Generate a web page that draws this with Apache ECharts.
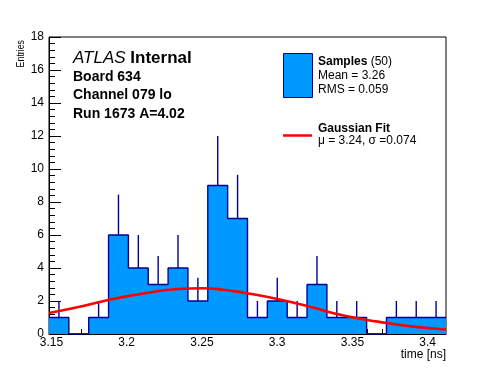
<!DOCTYPE html>
<html>
<head>
<meta charset="utf-8">
<script src="https://cdn.jsdelivr.net/npm/echarts@6/dist/echarts.min.js"></script>
<style>
html,body{margin:0;padding:0;background:#fff;}
#main{width:496px;height:372px;}
</style>
</head>
<body>
<div id="main"></div>
<script>
// ---- data ----
const xRange = [3.1484, 3.4122];
const counts = [1, 0, 1, 6, 4, 3, 4, 2, 9, 7, 1, 2, 1, 3, 1, 1, 0, 1, 1, 1];
const errUp  = [1, 0, 1, 2.45, 2, 1.73, 2, 1.41, 3, 2.65, 1, 1.41, 1, 1.73, 1, 1, 0, 1, 1, 1];
const fitX = [3.1484, 3.168, 3.190, 3.212, 3.234, 3.250, 3.263, 3.279, 3.301, 3.323, 3.345, 3.367, 3.389, 3.4122];
const fitY = [1.27, 1.63, 2.10, 2.47, 2.73, 2.77, 2.70, 2.49, 2.11, 1.62, 1.10, 0.75, 0.46, 0.27];
const xMajorTicks = [3.15, 3.2, 3.25, 3.3, 3.35, 3.4];
const xMinorTicks = [3.15, 3.16, 3.17, 3.18, 3.19, 3.2, 3.21, 3.22, 3.23, 3.24, 3.25, 3.26, 3.27, 3.28, 3.29, 3.3, 3.31, 3.32, 3.33, 3.34, 3.35, 3.36, 3.37, 3.38, 3.39, 3.4, 3.41];
const yRange = [0, 18];
const yInterval = 2;

// ---- build ----
const FONT = "'Liberation Sans', Arial, Helvetica, sans-serif";
const FILL = '#0099ff';
const EDGE = '#000099';
const nb = counts.length;
const bw = (xRange[1] - xRange[0]) / nb;
const stepData = [];
for (let i = 0; i < nb; i++) stepData.push([xRange[0] + i * bw, counts[i]]);
stepData.push([xRange[1], counts[nb - 1]]);
const errData = [];
for (let i = 0; i < nb; i++) if (counts[i] > 0) errData.push([xRange[0] + (i + 0.5) * bw, counts[i], counts[i] + errUp[i]]);
const fitData = fitX.map((x, i) => [x, fitY[i]]);

function txt(x, y, text, opt) {
  opt = opt || {};
  return {
    type: 'text', x: x, y: y, rotation: opt.rotation || 0, z: 100,
    scaleX: opt.scaleX || 1,
    style: Object.assign({
      text: text,
      fontFamily: FONT,
      fontSize: opt.fontSize || 12,
      fontWeight: opt.fontWeight || 'normal',
      fontStyle: opt.fontStyle || 'normal',
      fill: '#000',
      align: opt.align || 'left', textAlign: opt.align || 'left',
      verticalAlign: 'middle', textVerticalAlign: 'middle'
    }, opt.extra || {})
  };
}

const chart = echarts.init(document.getElementById('main'), null, {renderer: 'canvas'});
const axisBase = {
  type: 'value', min: xRange[0], max: xRange[1],
  splitLine: {show: false}
};
chart.setOption({
  animation: false,
  backgroundColor: '#fff',
  grid: {left: 49, top: 37, width: 397, height: 297, show: true, borderColor: '#000', borderWidth: 1, backgroundColor: 'transparent', outerBoundsMode: 'none', containLabel: false},
  xAxis: [
    Object.assign({}, axisBase, {
      position: 'bottom',
      axisLine: {show: true, onZero: false, lineStyle: {color: '#000', width: 1}},
      axisTick: {show: true, inside: true, length: 9, customValues: xMajorTicks, lineStyle: {color: '#000'}},
      axisLabel: {show: true, customValues: xMajorTicks, fontSize: 12, fontFamily: FONT, color: '#000', margin: 3}
    }),
    Object.assign({}, axisBase, {
      position: 'bottom',
      axisLine: {show: false, onZero: false},
      axisTick: {show: true, inside: true, length: 5, customValues: xMinorTicks, lineStyle: {color: '#000'}},
      axisLabel: {show: false}
    })
  ],
  yAxis: {
    type: 'value', min: yRange[0], max: yRange[1], interval: yInterval,
    axisLine: {show: true, onZero: false, lineStyle: {color: '#000', width: 1}},
    axisTick: {show: true, inside: true, length: 12, lineStyle: {color: '#000'}},
    minorTick: {show: true, splitNumber: 5, length: 6, lineStyle: {color: '#000'}},
    axisLabel: {fontSize: 12, fontFamily: FONT, color: '#000', margin: 5},
    splitLine: {show: false}, minorSplitLine: {show: false}
  },
  series: [
    {
      type: 'line', step: 'end', data: stepData, showSymbol: false, symbol: 'none',
      lineStyle: {color: EDGE, width: 1.4}, areaStyle: {color: FILL, opacity: 1, origin: 'start'},
      z: 2, silent: true
    },
    {
      type: 'custom', data: errData, z: 3, silent: true,
      renderItem: function (params, api) {
        const p0 = api.coord([api.value(0), api.value(1)]);
        const p1 = api.coord([api.value(0), api.value(2)]);
        return {type: 'line', shape: {x1: p0[0], y1: p0[1], x2: p1[0], y2: p1[1]}, style: {stroke: EDGE, lineWidth: 1.4}};
      }
    },
    {
      type: 'line', data: fitData, smooth: 0.5, showSymbol: false, symbol: 'none',
      lineStyle: {color: '#ff0000', width: 2.6}, z: 5, silent: true, clip: true
    }
  ],
  graphic: [
    txt(21, 40, 'Entries', {rotation: Math.PI / 2, align: 'right', fontSize: 11, scaleX: 0.8}),
    txt(446, 355, 'time [ns]', {align: 'right', fontSize: 12}),
    {
      type: 'text', x: 73, y: 58, z: 100,
      style: {
        text: '{i|ATLAS} {b|Internal}', fontFamily: FONT, fontSize: 17, fill: '#000',
        align: 'left', textAlign: 'left', verticalAlign: 'middle', textVerticalAlign: 'middle',
        rich: {
          i: {fontStyle: 'italic', fontSize: 17, fontFamily: FONT, fill: '#000', color: '#000'},
          b: {fontWeight: 'bold', fontSize: 17, fontFamily: FONT, fill: '#000', color: '#000'}
        }
      }
    },
    txt(73, 77, 'Board 634', {fontSize: 14, fontWeight: 'bold'}),
    txt(73, 95.5, 'Channel 079 lo', {fontSize: 14, fontWeight: 'bold'}),
    txt(73, 114, 'Run 1673 A=4.02', {fontSize: 14, fontWeight: 'bold'}),
    {type: 'rect', z: 100, shape: {x: 283.5, y: 53.5, width: 29, height: 44}, style: {fill: FILL, stroke: EDGE, lineWidth: 1}},
    {
      type: 'text', x: 318, y: 62, z: 100,
      style: {
        text: '{b|Samples} (50)', fontFamily: FONT, fontSize: 12, fill: '#000',
        align: 'left', textAlign: 'left', verticalAlign: 'middle', textVerticalAlign: 'middle',
        rich: {b: {fontWeight: 'bold', fontSize: 12, fontFamily: FONT, fill: '#000', color: '#000'}}
      }
    },
    txt(318, 76, 'Mean = 3.26'),
    txt(318, 90, 'RMS = 0.059'),
    {type: 'line', z: 100, shape: {x1: 283, y1: 135.5, x2: 312, y2: 135.5}, style: {stroke: '#ff0000', lineWidth: 2.5}},
    txt(318, 129, 'Gaussian Fit', {fontWeight: 'bold'}),
    txt(318, 141, 'μ = 3.24, σ =0.074')
  ]
});
</script>
</body>
</html>
